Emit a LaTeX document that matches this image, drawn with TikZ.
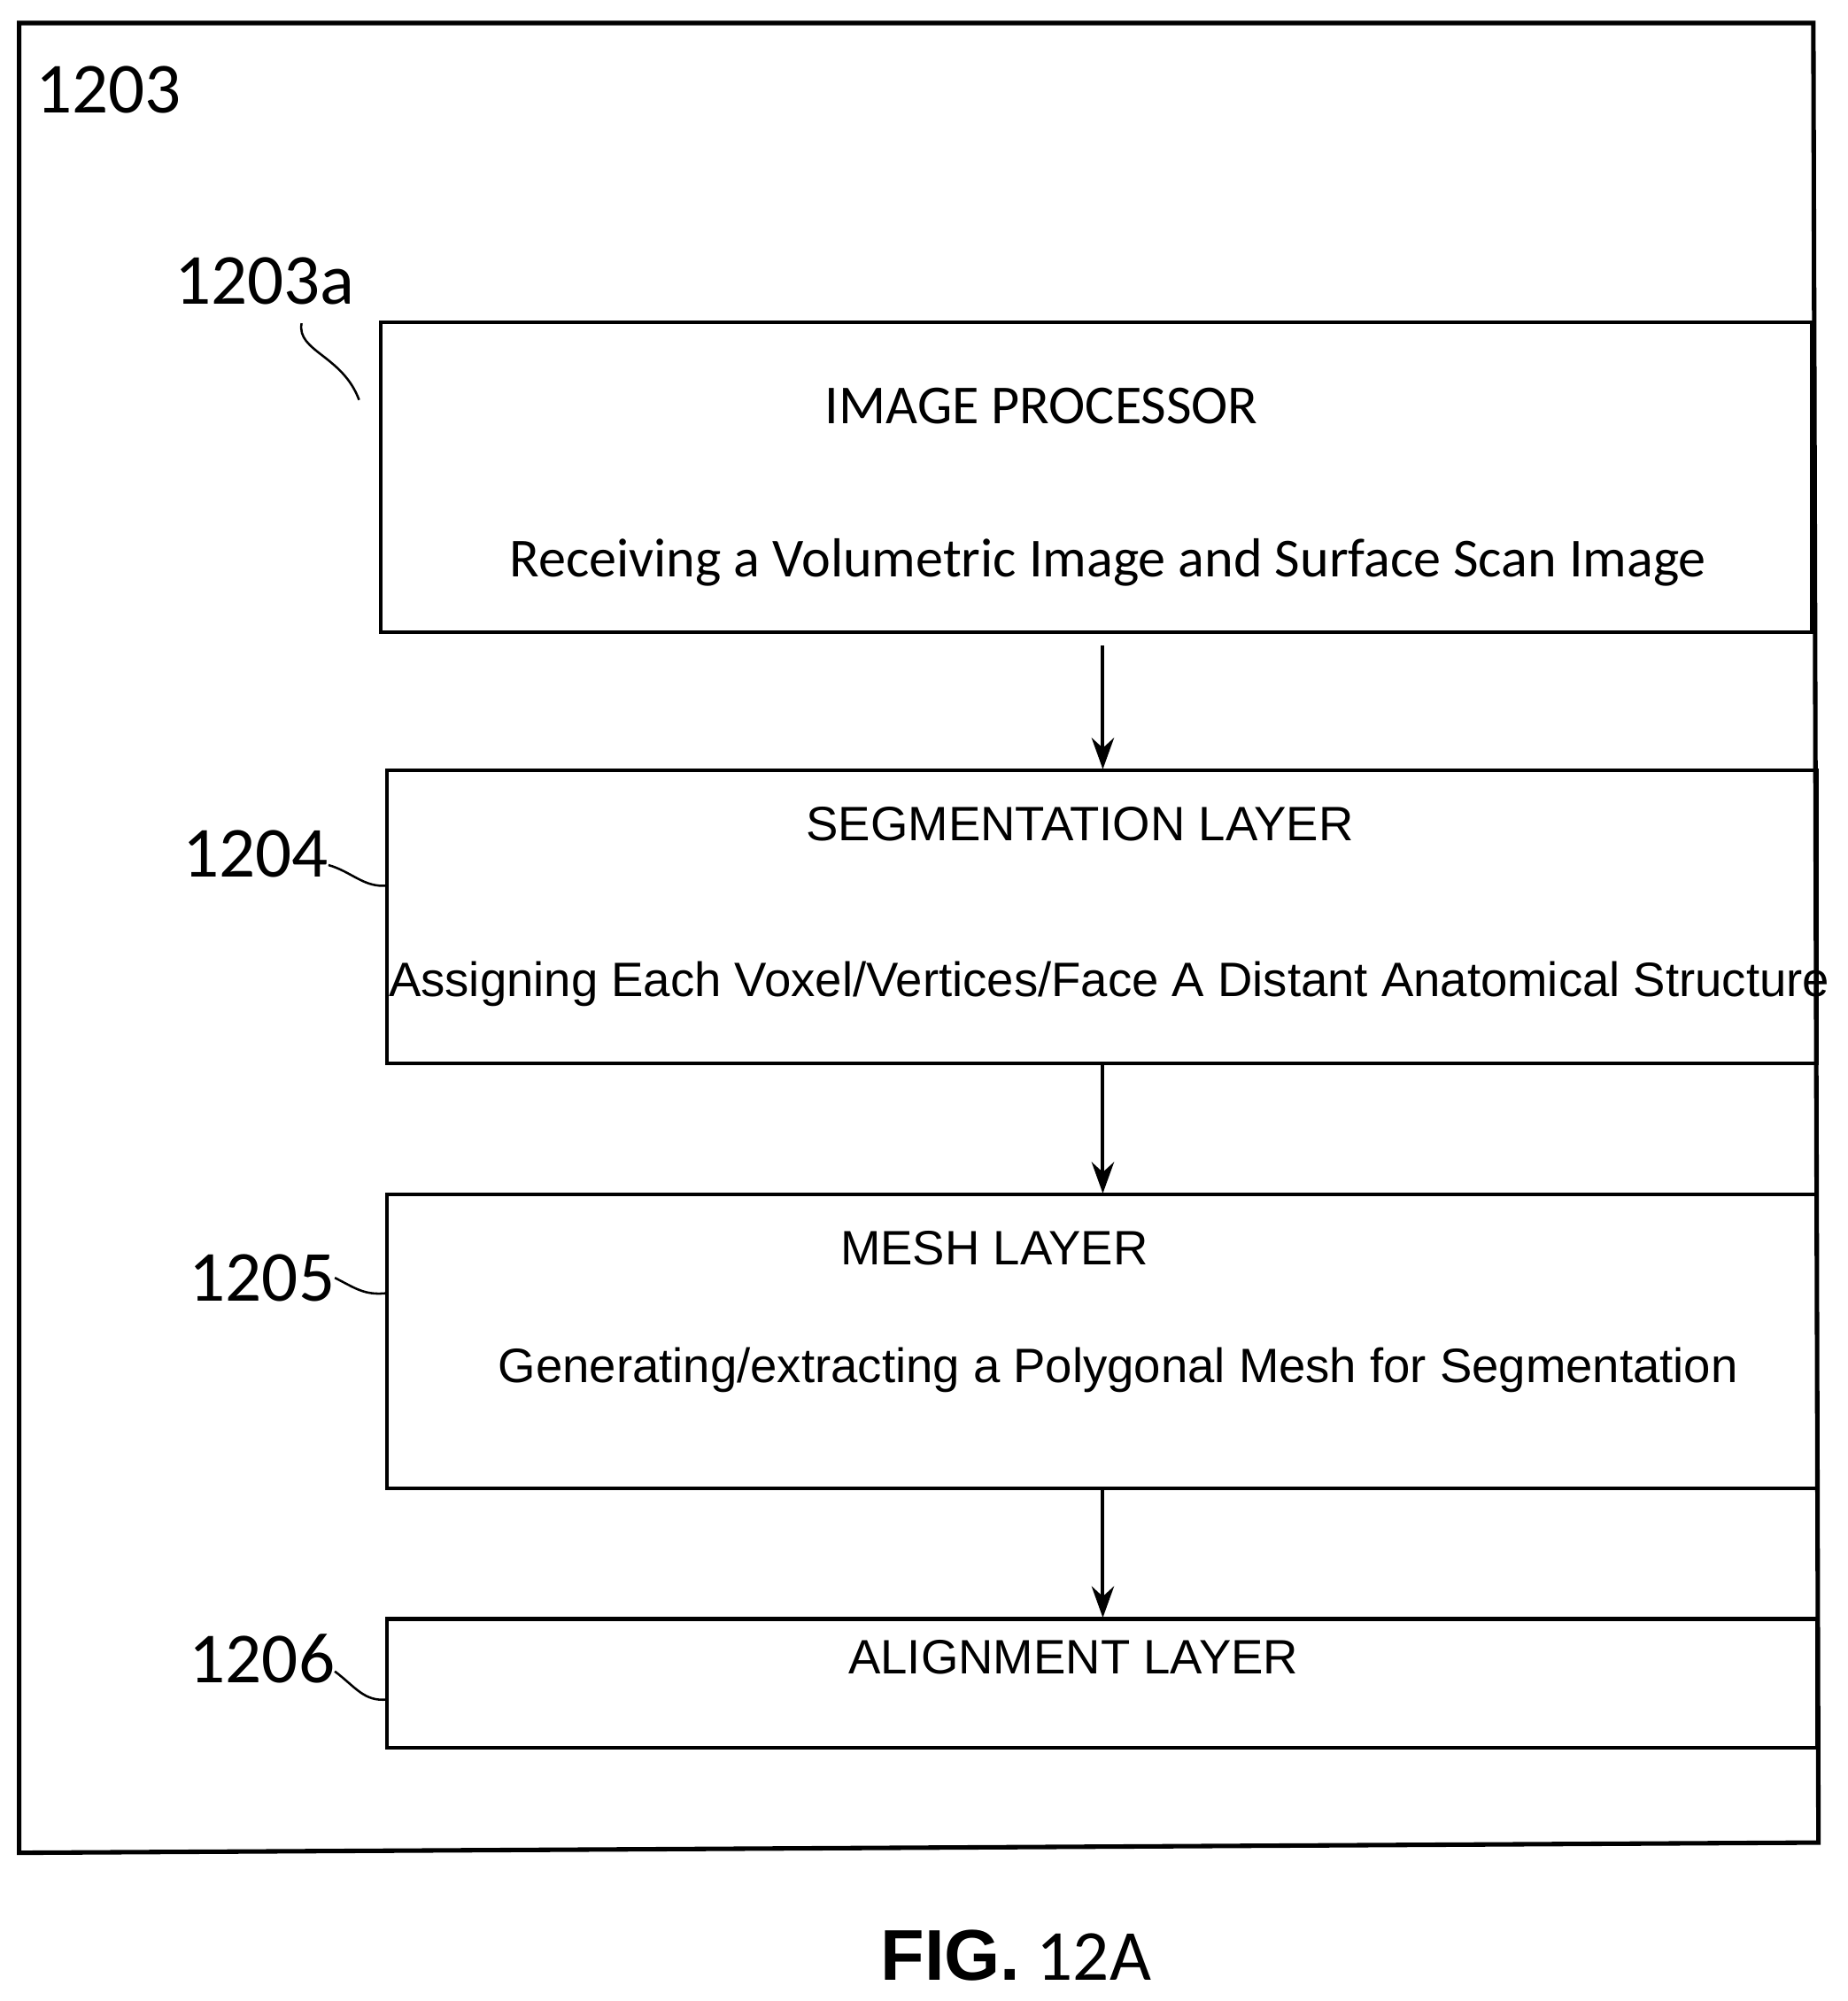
\documentclass[tikz,border=0pt]{standalone}
\usepackage{fontspec}
\setmainfont{Liberation Sans}
\newfontfamily\calfont{Carlito}
\usetikzlibrary{arrows.meta,positioning}
\tikzset{
  flow/.style={line width=1.6pt, -{Stealth[length=14pt,width=10pt]}},
  refnum/.style={font=\calfont\fontsize{32}{36}\selectfont},
  lead/.style={line width=1pt},
  boxtxt/.style={font=\fontsize{21.5}{25}\selectfont},
  caltxt/.style={font=\calfont\fontsize{24.5}{28}\selectfont}
}
\begin{document}
\begin{tikzpicture}[x=0.02cm, y=-0.02cm]
  \useasboundingbox (0,0) rectangle (1446,1566);
  % outer frame
  \draw[line width=2pt] (15,18) -- (1419,18) -- (1423,1442) -- (15,1450) -- cycle;
  \node[refnum] (n1203) at (85,70) {1203};

  % layers
  \draw[line width=1.6pt] (298,252) rectangle (1418,495);
  \node[caltxt] (imgtitle) at (815,318) {IMAGE PROCESSOR};
  \node[caltxt] (imgdesc) at (867,440) {Receiving a Volumetric Image and Surface Scan Image};

  \draw[line width=1.6pt] (303,603) rectangle (1422,832);
  \node[boxtxt] (segtitle) at (845,645) {SEGMENTATION LAYER};
  \node[boxtxt] (segdesc) at (868,770) {Assigning Each Voxel/Vertices/Face A Distant Anatomical Structure};

  \draw[line width=1.6pt] (303,935) rectangle (1422,1165);
  \node[boxtxt] (meshtitle) at (778,977) {MESH LAYER};
  \node[boxtxt] (meshdesc) at (875,1072) {Generating/extracting a Polygonal Mesh for Segmentation};

  \draw[line width=1.6pt] (303,1267) rectangle (1422,1368);
  \node[boxtxt] (algtitle) at (840,1297) {ALIGNMENT LAYER};

  % arrows between layers
  \coordinate (a1) at (863,505);  \coordinate (b1) at (863,602);
  \coordinate (a2) at (863,832);  \coordinate (b2) at (863,934);
  \coordinate (a3) at (863,1165); \coordinate (b3) at (863,1266);
  \draw[flow] (a1) -- (b1);
  \draw[flow] (a2) -- (b2);
  \draw[flow] (a3) -- (b3);

  % reference numerals
  \node[refnum] (n1203a) at (207,220) {1203a};
  \draw[lead] (236,253) .. controls (232,275) and (268,278) .. (281,313);
  \node[refnum] (n1204) at (200,668) {1204};
  \draw[lead] (257,677) .. controls (275,682) and (285,695) .. (303,693);
  \node[refnum] (n1205) at (205,1000) {1205};
  \draw[lead] (262,1000) .. controls (278,1008) and (285,1014) .. (303,1012);
  \node[refnum] (n1206) at (205,1298) {1206};
  \draw[lead] (262,1308) .. controls (278,1320) and (285,1332) .. (303,1330);

  \node[font=\calfont\fontsize{32}{36}\selectfont] (fig) at (795,1530) {{\fontspec{Liberation Sans}\bfseries FIG.} 12A};
\end{tikzpicture}
\end{document}
